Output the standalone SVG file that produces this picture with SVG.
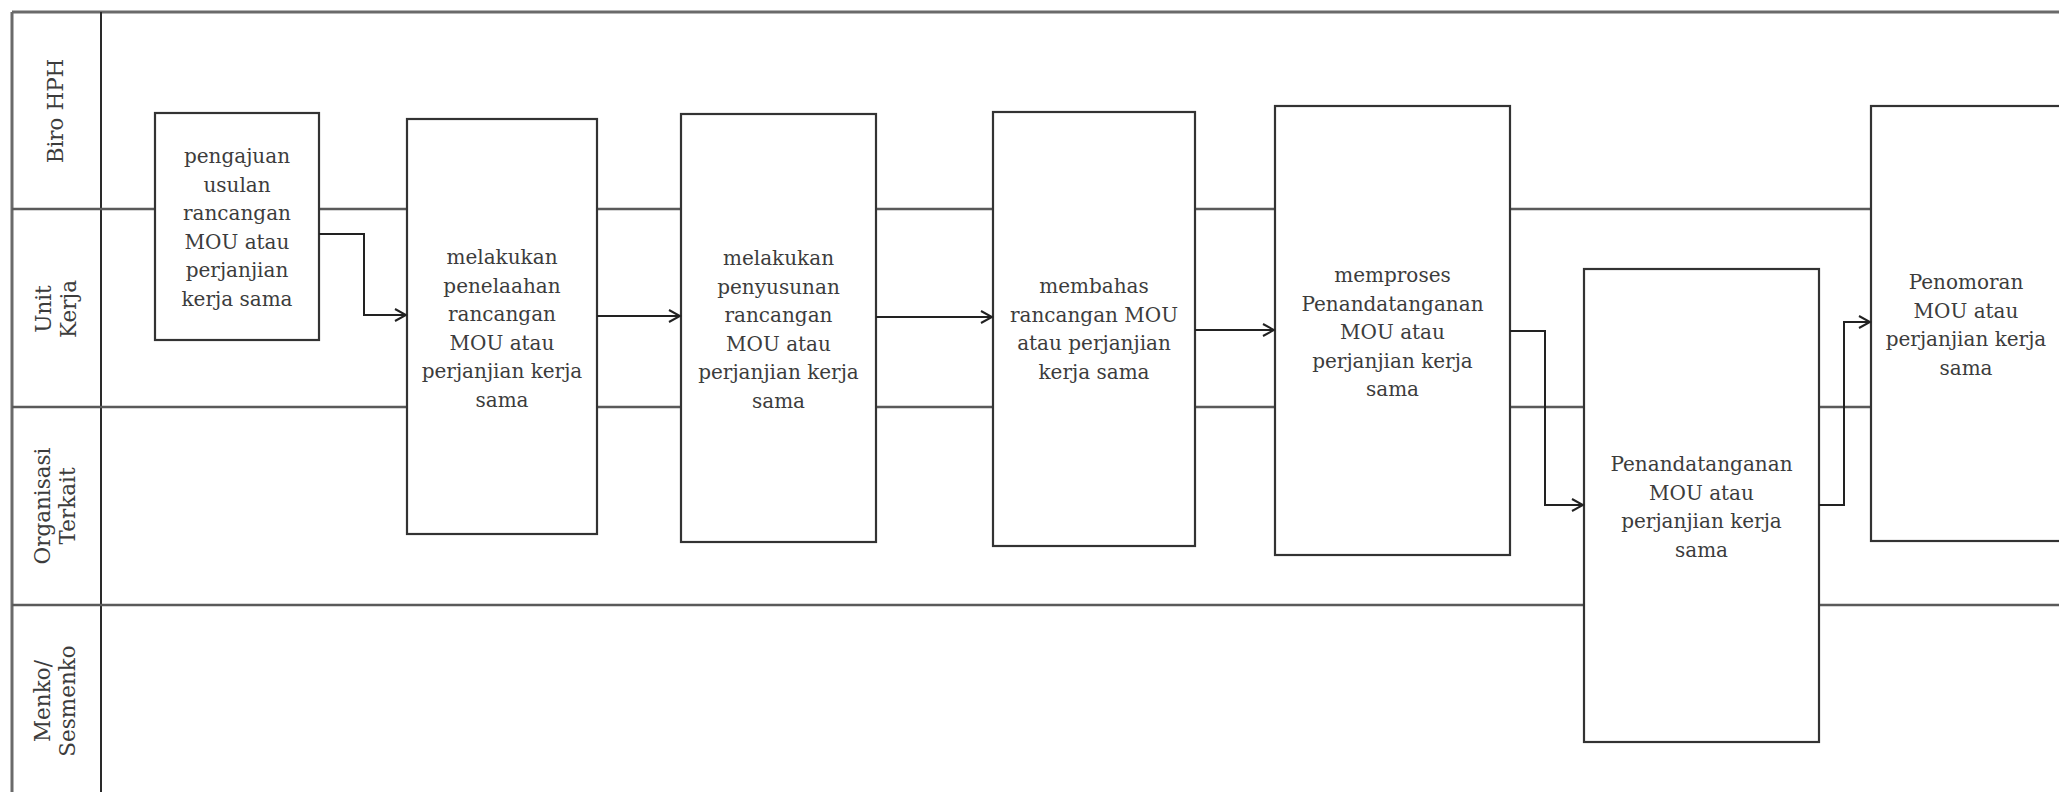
<svg xmlns="http://www.w3.org/2000/svg" width="2059" height="792" viewBox="0 0 2059 792">
<style>
.bg{fill:#ffffff}
.lane{stroke:#5a5a5a;stroke-width:2.5;fill:none}
.border{stroke:#6a6a6a;stroke-width:3;fill:none}
.hdr{stroke:#2a2a2a;stroke-width:2;fill:none}
.box{fill:#ffffff;stroke:#333333;stroke-width:2.2}
.txt{font-family:"DejaVu Serif","Liberation Serif",serif;font-size:20px;fill:#3c3c3c;text-anchor:middle}
.lbl{font-family:"DejaVu Serif","Liberation Serif",serif;font-size:21.5px;fill:#3c3c3c;text-anchor:middle}
.con{stroke:#222222;stroke-width:2;fill:none}
</style>
<defs>
<marker id="arr" markerUnits="userSpaceOnUse" markerWidth="14" markerHeight="16" refX="12" refY="7" orient="auto">
<path d="M1,1 L12,7 L1,13" fill="none" stroke="#222222" stroke-width="2"/>
</marker>
</defs>
<rect class="bg" x="0" y="0" width="2059" height="792"/>
<g id="lanes">
<line class="border" x1="12" y1="12" x2="2059" y2="12"/>
<line class="border" x1="12" y1="12" x2="12" y2="792"/>
<line class="hdr" x1="101" y1="12" x2="101" y2="792"/>
<line class="lane" x1="12" y1="209" x2="2059" y2="209"/>
<line class="lane" x1="12" y1="407" x2="2059" y2="407"/>
<line class="lane" x1="12" y1="605" x2="2059" y2="605"/>
<text class="lbl" transform="translate(55,111) rotate(-90)" x="0" y="7.5">Biro HPH</text>
<text class="lbl" transform="translate(55.5,309) rotate(-90)"><tspan x="0" y="-5">Unit</tspan><tspan x="0" y="20">Kerja</tspan></text>
<text class="lbl" transform="translate(55,506) rotate(-90)"><tspan x="0" y="-5">Organisasi</tspan><tspan x="0" y="20">Terkait</tspan></text>
<text class="lbl" transform="translate(55,701) rotate(-90)"><tspan x="0" y="-5">Menko/</tspan><tspan x="0" y="20">Sesmenko</tspan></text>
</g>
<g id="n1">
<rect class="box" x="155" y="113" width="164" height="227"/>
<text class="txt"><tspan x="237" y="163">pengajuan</tspan><tspan x="237" dy="28.6">usulan</tspan><tspan x="237" dy="28.6">rancangan</tspan><tspan x="237" dy="28.6">MOU atau</tspan><tspan x="237" dy="28.6">perjanjian</tspan><tspan x="237" dy="28.6">kerja sama</tspan></text>
</g>
<g id="n2">
<rect class="box" x="407" y="119" width="190" height="415"/>
<text class="txt"><tspan x="502" y="264">melakukan</tspan><tspan x="502" dy="28.6">penelaahan</tspan><tspan x="502" dy="28.6">rancangan</tspan><tspan x="502" dy="28.6">MOU atau</tspan><tspan x="502" dy="28.6">perjanjian kerja</tspan><tspan x="502" dy="28.6">sama</tspan></text>
</g>
<g id="n3">
<rect class="box" x="681" y="114" width="195" height="428"/>
<text class="txt"><tspan x="778.5" y="265">melakukan</tspan><tspan x="778.5" dy="28.6">penyusunan</tspan><tspan x="778.5" dy="28.6">rancangan</tspan><tspan x="778.5" dy="28.6">MOU atau</tspan><tspan x="778.5" dy="28.6">perjanjian kerja</tspan><tspan x="778.5" dy="28.6">sama</tspan></text>
</g>
<g id="n4">
<rect class="box" x="993" y="112" width="202" height="434"/>
<text class="txt"><tspan x="1094" y="293">membahas</tspan><tspan x="1094" dy="28.6">rancangan MOU</tspan><tspan x="1094" dy="28.6">atau perjanjian</tspan><tspan x="1094" dy="28.6">kerja sama</tspan></text>
</g>
<g id="n5">
<rect class="box" x="1275" y="106" width="235" height="449"/>
<text class="txt"><tspan x="1392.5" y="282">memproses</tspan><tspan x="1392.5" dy="28.6">Penandatanganan</tspan><tspan x="1392.5" dy="28.6">MOU atau</tspan><tspan x="1392.5" dy="28.6">perjanjian kerja</tspan><tspan x="1392.5" dy="28.6">sama</tspan></text>
</g>
<g id="n6">
<rect class="box" x="1584" y="269" width="235" height="473"/>
<text class="txt"><tspan x="1701.5" y="471">Penandatanganan</tspan><tspan x="1701.5" dy="28.6">MOU atau</tspan><tspan x="1701.5" dy="28.6">perjanjian kerja</tspan><tspan x="1701.5" dy="28.6">sama</tspan></text>
</g>
<g id="n7">
<rect class="box" x="1871" y="106" width="192" height="435"/>
<text class="txt"><tspan x="1966" y="289">Penomoran</tspan><tspan x="1966" dy="28.6">MOU atau</tspan><tspan x="1966" dy="28.6">perjanjian kerja</tspan><tspan x="1966" dy="28.6">sama</tspan></text>
</g>
<g id="connectors">
<path class="con" d="M319,234 H364 V315 H406" marker-end="url(#arr)"/>
<path class="con" d="M597,316 H680" marker-end="url(#arr)"/>
<path class="con" d="M876,317 H992" marker-end="url(#arr)"/>
<path class="con" d="M1195,330 H1274" marker-end="url(#arr)"/>
<path class="con" d="M1510,331 H1545 V505 H1583" marker-end="url(#arr)"/>
<path class="con" d="M1819,505 H1844 V322 H1870" marker-end="url(#arr)"/>
</g>
</svg>
